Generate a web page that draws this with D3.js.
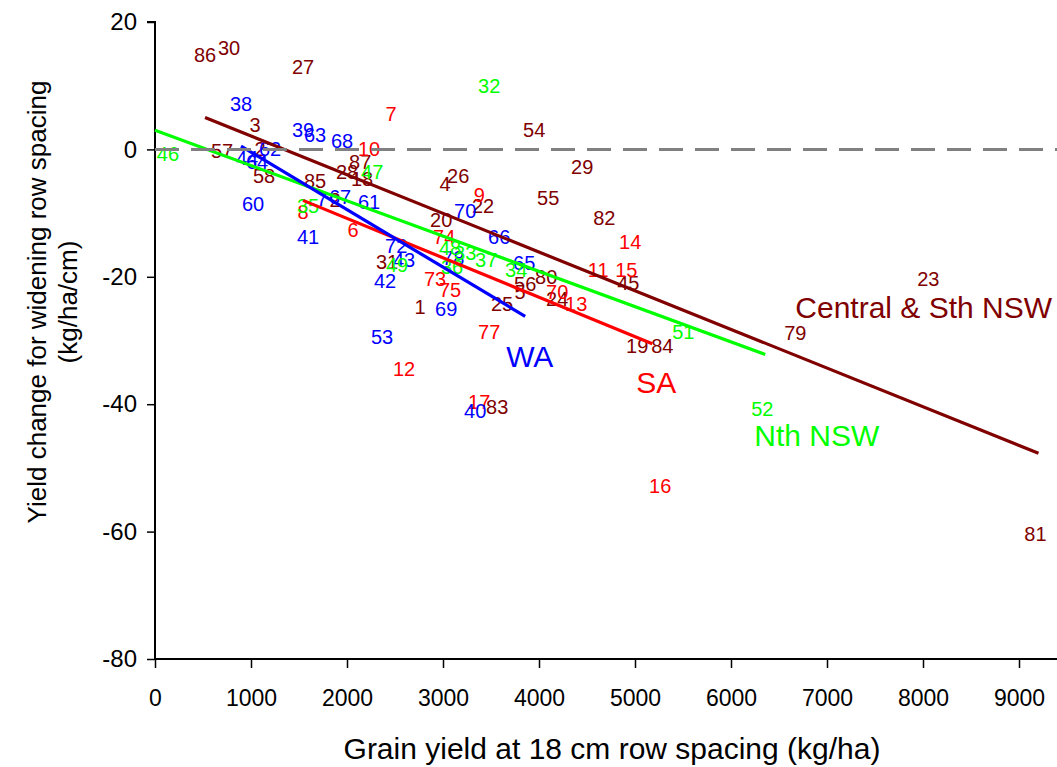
<!DOCTYPE html>
<html>
<head>
<meta charset="utf-8">
<script src="https://cdn.jsdelivr.net/npm/d3@7"></script>
<style>
  body { margin: 0; background: #fff; }
  svg { display: block; }
  text { font-family: "Liberation Sans", Arial, sans-serif; }
</style>
</head>
<body>
<div id="chart"></div>
<script>
// ---- Data (grain yield kg/ha, yield change kg/ha/cm, site label) ----
const xTicks = [0, 1000, 2000, 3000, 4000, 5000, 6000, 7000, 8000, 9000];
const yTicks = [20, 0, -20, -40, -60, -80];

const cnswPoints = [
  [521, 14.8, "86"], [771, 15.9, "30"], [1542, 12.9, "27"], [1042, 3.8, "3"],
  [698, -0.2, "57"], [1094, 0, "2"], [1136, -4.1, "58"], [1668, -5.0, "85"],
  [1876, -8.0, "2"], [2001, -3.5, "28"], [2137, -2.0, "87"], [2157, -4.7, "18"],
  [3022, -5.5, "4"], [3158, -4.1, "26"], [3418, -8.9, "22"], [2981, -11.1, "20"],
  [4096, -7.7, "55"], [4450, -2.8, "29"], [3950, 3.0, "54"], [4680, -10.8, "82"],
  [4930, -20.9, "45"], [2418, -17.6, "31"], [2762, -24.8, "1"], [3616, -24.2, "25"],
  [3804, -22.4, "5"], [3856, -21.2, "56"], [4075, -20.1, "80"], [4190, -23.5, "24"],
  [5023, -30.8, "19"], [5284, -30.9, "84"], [3564, -40.5, "83"], [8056, -20.4, "23"],
  [6670, -28.9, "79"], [9171, -60.3, "81"]
];
const saPoints = [
  [2460, 5.5, "7"], [2230, 0, "10"], [3377, -7.2, "9"], [2064, -12.7, "6"],
  [1542, -9.9, "8"], [3012, -13.7, "74"], [2918, -20.3, "73"], [3074, -22.0, "75"],
  [3481, -28.6, "77"], [2595, -34.5, "12"], [3377, -39.6, "17"], [5263, -52.9, "16"],
  [4950, -14.6, "14"], [4617, -19.0, "11"], [4909, -19.0, "15"], [4190, -22.4, "70"],
  [4388, -24.3, "13"]
];
const waPoints = [
  [896, 7.1, "38"], [1542, 3.1, "39"], [1668, 2.2, "63"], [1949, 1.3, "68"],
  [1199, 0, "62"], [959, -1.3, "44"], [1063, -2.0, "64"], [1021, -8.5, "60"],
  [1595, -13.8, "41"], [1740, -7.8, "7"], [1928, -7.4, "67"], [2230, -8.3, "61"],
  [3231, -9.6, "70"], [3585, -13.7, "66"], [2512, -15.1, "72"], [2595, -17.3, "43"],
  [2397, -20.7, "42"], [3106, -17.1, "78"], [3846, -17.9, "65"], [3033, -25.0, "69"],
  [2366, -29.5, "53"], [3335, -41.0, "40"]
];
const nnswPoints = [
  [135, -0.8, "46"], [3481, 10.0, "32"], [2262, -3.5, "47"], [1595, -8.9, "35"],
  [2522, -18.2, "49"], [3074, -15.5, "48"], [3231, -16.2, "33"], [3450, -17.3, "37"],
  [3095, -18.5, "36"], [3762, -19.0, "34"], [5503, -28.7, "51"], [6326, -40.7, "52"]
];

// Regression lines (end points)
const cnswFit = [[521, 5.0], [9203, -47.7]];
const nnswFit = [[0, 3.0], [6357, -32.2]];
const saFit = [[1542, -8.0], [5180, -30.5]];
const waFit = [[896, 0.5], [3856, -26.2]];

// Region labels [x, y(baseline), text, group]
const regionLabels = [
  [6670, -26.4, "Central & Sth NSW", "cnsw"],
  [3658, -34.2, "WA", "wa"],
  [5013, -38.3, "SA", "sa"],
  [6243, -46.6, "Nth NSW", "nnsw"]
];

// ---- Drawing ----
const W = 1057, H = 767;
const colors = { cnsw: "#800000", sa: "#ff0000", wa: "#0000ff", nnsw: "#00ff00" };

const svg = d3.select("#chart").append("svg").attr("width", W).attr("height", H);

const x = d3.scaleLinear().domain([0, 9000]).range([155, 1019]);
const y = d3.scaleLinear().domain([-80, 20]).range([659, 22]);

// Axes
const yAxis = d3.axisLeft(y).tickValues(yTicks).tickSize(8).tickPadding(10).tickFormat(d => String(d));
const gy = svg.append("g").attr("transform", `translate(${x(0)},0)`).call(yAxis);
gy.select(".domain").attr("stroke", "#000").attr("stroke-width", 2).attr("d", `M-8,${y(20)}H0V${y(-80)}`);
gy.selectAll(".tick line").attr("stroke-width", 1.5);
gy.selectAll(".tick text").attr("font-size", 24).attr("font-family", "Liberation Sans, Arial, sans-serif").attr("fill", "#000");

const xAxis = d3.axisBottom(x).tickValues(xTicks).tickSize(9).tickPadding(22).tickFormat(d => String(d));
const gx = svg.append("g").attr("transform", `translate(0,${y(-80)})`).call(xAxis);
gx.select(".domain").attr("stroke", "#000").attr("stroke-width", 2).attr("d", `M${x(0)},0H${W}`);
gx.selectAll(".tick line").attr("stroke-width", 1.5);
gx.selectAll(".tick text").attr("font-size", 23).attr("font-family", "Liberation Sans, Arial, sans-serif").attr("fill", "#000");

// Axis titles
svg.append("text").attr("x", 612).attr("y", 759).attr("text-anchor", "middle")
  .attr("font-size", 30).attr("fill", "#000").text("Grain yield at 18 cm row spacing (kg/ha)");
const yt = svg.append("text").attr("transform", "translate(46,302) rotate(-90)")
  .attr("text-anchor", "middle").attr("font-size", 26).attr("fill", "#000");
yt.append("tspan").attr("x", 0).attr("y", 0).text("Yield change for widening row spacing");
yt.append("tspan").attr("x", 0).attr("y", 31).text("(kg/ha/cm)");

// Point labels
const groups = [["cnsw", cnswPoints], ["sa", saPoints], ["wa", waPoints], ["nnsw", nnswPoints]];
groups.forEach(([key, pts]) => {
  svg.append("g").selectAll("text").data(pts).join("text")
    .attr("x", d => x(d[0])).attr("y", d => y(d[1]))
    .attr("dy", "0.35em").attr("text-anchor", "middle")
    .attr("font-size", 20).attr("fill", colors[key]).text(d => d[2]);
});

// Regression lines
const line = d3.line().x(d => x(d[0])).y(d => y(d[1]));
[["cnsw", cnswFit], ["nnsw", nnswFit], ["sa", saFit], ["wa", waFit]].forEach(([key, pts]) => {
  svg.append("path").attr("d", line(pts)).attr("fill", "none")
    .attr("stroke", colors[key]).attr("stroke-width", 3.2);
});

// Zero reference line
svg.append("path").attr("d", line([[0, 0], [9400, 0]])).attr("fill", "none")
  .attr("stroke", "#808080").attr("stroke-width", 3).attr("stroke-dasharray", "24,12");

// Region labels
svg.append("g").selectAll("text").data(regionLabels).join("text")
  .attr("x", d => x(d[0])).attr("y", d => y(d[1]))
  .attr("font-size", 30).attr("fill", d => colors[d[3]]).text(d => d[2]);
</script>
</body>
</html>
